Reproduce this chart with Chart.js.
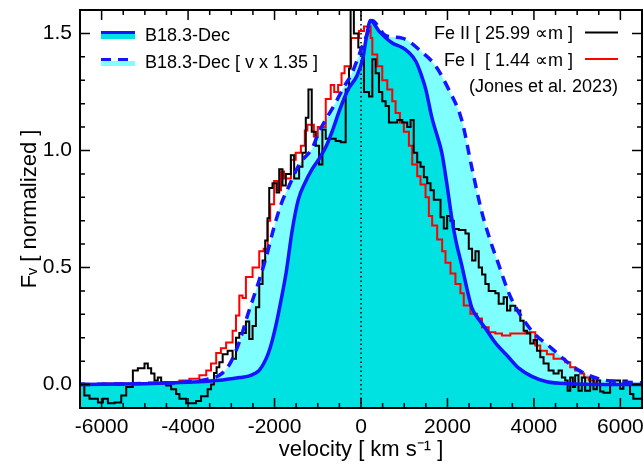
<!DOCTYPE html>
<html lang="en">
<head>
    <meta charset="UTF-8">
    <title>Line profiles</title>
    <script src="https://cdn.jsdelivr.net/npm/chart.js"></script>
    <style>
        body { margin: 0; background: #fff; }
        canvas { display: block; }
    </style>
</head>
<body>
    <canvas id="profileChart" width="644" height="465"></canvas>

    <script>
        const xTicks = [-6000, -4000, -2000, 0, 2000, 4000, 6000];
        const yTicks = [0.0, 0.5, 1.0, 1.5];

        // B18.3-Dec model profile
        const modelVel = [-6500, -5000, -4000, -3200, -2800, -2600, -2450, -2350, -2250, -2150, -2050, -1960, -1850,
            -1730, -1590, -1450, -1300, -1130, -950, -800, -650, -500, -300, -90, 50, 120, 220, 415, 715, 950, 1100,
            1270, 1400, 1500, 1640, 1750, 1870, 2000, 2100, 2200, 2330, 2450, 2560, 2700, 2880, 3100, 3400, 3650,
            3950, 4300, 4800, 6500];
        const modelFlux = [0.0, 0.004, 0.01, 0.02, 0.03, 0.036, 0.048, 0.062, 0.09, 0.13, 0.19, 0.26, 0.36,
            0.48, 0.66, 0.79, 0.86, 0.92, 0.97, 1.02, 1.09, 1.17, 1.26, 1.32, 1.40, 1.48, 1.555, 1.51, 1.46, 1.44, 1.42,
            1.38, 1.32, 1.26, 1.14, 1.07, 0.99, 0.84, 0.71, 0.61, 0.51, 0.41, 0.33, 0.285, 0.24, 0.18, 0.12, 0.07,
            0.035, 0.012, 0.004, 0.0];

        // same model, velocities stretched by 1.35
        const stretchVel = [-6500, -5000, -4000, -3500, -3200, -3000, -2800, -2600, -2400, -2200, -2000, -1850,
            -1660, -1430, -1130, -970, -600, -400, -210, 20, 150, 250, 575, 950, 1410, 1730, 2030, 2330, 2560, 2790,
            3000, 3190, 3400, 3580, 3950, 4410, 4960, 5490, 6000, 6500];
        const stretchFlux = [0.0, 0.005, 0.012, 0.025, 0.05, 0.10, 0.19, 0.31, 0.42, 0.54, 0.68, 0.77,
            0.85, 0.94, 1.01, 1.08, 1.20, 1.27, 1.33, 1.44, 1.50, 1.555, 1.49, 1.48, 1.42, 1.36, 1.26, 1.13, 0.93, 0.74,
            0.61, 0.51, 0.40, 0.33, 0.23, 0.155, 0.07, 0.025, 0.012, 0.008];

        // Fe II 25.99 um, bin start velocities
        const feIIVel = [-6500, -6400, -6280, -6085, -5970, -5855, -5700, -5546, -5431, -5277, -5162, -5008, -4931,
            -4854, -4777, -4700, -4623, -4508, -4392, -4277, -4200, -4046, -3931, -3815, -3700, -3546, -3469, -3400,
            -3340, -3277, -3200, -3085, -2970, -2892, -2815, -2662, -2585, -2508, -2431, -2354, -2277, -2216, -2162,
            -2123, -2047, -1954, -1892, -1816, -1739, -1623, -1546, -1431, -1354, -1277, -1216, -1139, -1046, -970,
            -893, -816, -739, -585, -470, -354, -277, -240, -165, -62, -8, 69, 185, 262, 339, 415, 492,
            570, 646, 762, 839, 954, 1070, 1147, 1220, 1300, 1377, 1454, 1531, 1608, 1685, 1839, 1916, 1993, 2070,
            2146, 2262, 2416, 2493, 2570, 2647, 2723, 2800, 2877, 2954, 3108, 3185, 3300, 3377, 3454, 3570, 3685,
            3762, 3839, 3916, 3993, 4070, 4147, 4223, 4339, 4454, 4570, 4647, 4724, 4780, 4840, 4900, 4954, 5031,
            5108, 5185, 5300, 5377, 5454, 5531, 5608, 5762, 5993, 6070, 6147, 6223, 6300, 6500];
        const feIIFlux = [0.005, -0.047, -0.06, -0.076, -0.06, -0.08, -0.076, -0.047, -0.01, 0.06, 0.07, 0.09, 0.07,
            0.047, 0.017, 0.03, 0.01, -0.004, -0.02, -0.04, -0.06, -0.08, -0.08, -0.07, -0.05, -0.02, 0.0, 0.05,
            0.074, 0.095, 0.13, 0.145, 0.11, 0.2, 0.22, 0.27, 0.195, 0.25, 0.33, 0.43, 0.53, 0.615, 0.71,
            0.84, 0.86, 0.82, 0.92, 0.85, 0.90, 0.98, 0.88, 0.93, 0.99, 1.14, 1.26, 1.08, 1.02, 0.94,
            1.09, 1.05, 1.05, 1.04, 1.035, 1.26, 1.35, 1.65, 1.50, 1.44, 1.41, 1.25, 1.23, 1.39, 1.33, 1.25, 1.21,
            1.19, 1.12, 1.12, 1.13, 1.12, 1.10, 1.13, 0.99, 0.95, 0.93, 0.886, 0.86, 0.83, 0.79, 0.715, 0.667, 0.72, 0.70,
            0.665, 0.66, 0.645, 0.58, 0.53, 0.57, 0.50, 0.47, 0.43, 0.40, 0.39, 0.345, 0.373, 0.316, 0.337, 0.316, 0.273,
            0.23, 0.218, 0.175, 0.19, 0.145, 0.117, 0.09, 0.06, 0.047, 0.06, 0.03, 0.017, -0.026, 0.03, -0.01, 0.04, -0.026,
            0.03, -0.026, 0.03, -0.02, 0.017, -0.03, -0.035, 0.017, -0.018, 0.017, 0.0, -0.04, -0.06, -0.06];

        // Fe I 1.44 um, bin start velocities
        const feIVel = [-6000, -4500, -4200, -3970, -3740, -3580, -3470, -3350, -3240, -3120, -2970, -2892, -2815,
            -2740, -2662, -2508, -2354, -2250, -2160, -2100, -2010, -1930, -1850, -1780, -1620, -1510, -1390, -1300,
            -1240, -1090, -1000, -815, -700, -620, -530, -450, -380, -230, -46, 69, 223, 262, 377, 492, 608, 723, 800,
            900, 992, 1108, 1185, 1300, 1377, 1493, 1570, 1646, 1762, 1877, 1954, 2070, 2185, 2300, 2377, 2531, 2685,
            2800, 2954, 3108, 3262, 3454, 3800, 4031, 4147, 4300, 4454, 4724, 4839, 4954, 5070, 5160, 5270, 5400, 5500];
        const feIFlux = [0.005, 0.01, 0.017, 0.025, 0.04, 0.06, 0.09, 0.135, 0.155, 0.18, 0.23, 0.295, 0.38,
            0.37, 0.46, 0.50, 0.57, 0.58, 0.70, 0.77, 0.87, 0.83, 0.91, 0.88, 0.96, 0.99, 1.02, 1.085,
            1.11, 1.06, 1.10, 1.22, 1.28, 1.25, 1.28, 1.33, 1.36, 1.48, 1.51, 1.53, 1.48, 1.41, 1.36, 1.30, 1.26, 1.21, 1.16,
            1.12, 1.08, 1.02, 0.94, 0.89, 0.855, 0.80, 0.72, 0.68, 0.62, 0.57, 0.52, 0.474, 0.43, 0.39, 0.338, 0.303, 0.282,
            0.245, 0.224, 0.218, 0.21, 0.218, 0.224, 0.167, 0.145, 0.13, 0.11, 0.095, 0.074, 0.06, 0.047, 0.03, 0.017, 0.005, 0.005];

        const FONT = '"Liberation Sans", Arial, Helvetica, sans-serif';
        const BLUE = '#1414ff';

        function pts(xs, ys) {
            return xs.map((v, i) => ({ x: v, y: ys[i] }));
        }

        // box, inward ticks on all four sides, dotted zero line
        const framePlugin = {
            id: 'frame',
            beforeDatasetsDraw(chart) {
                const { ctx, chartArea: a, scales: { x } } = chart;
                const px = x.getPixelForValue(0);
                ctx.save();
                ctx.strokeStyle = '#000';
                ctx.lineWidth = 1.5;
                ctx.setLineDash([1.5, 3]);
                ctx.beginPath();
                ctx.moveTo(px, a.bottom);
                ctx.lineTo(px, a.top);
                ctx.stroke();
                ctx.restore();
            },
            afterDraw(chart) {
                const { ctx, chartArea: a, scales: { x, y } } = chart;
                ctx.save();
                ctx.strokeStyle = '#000';
                ctx.lineWidth = 1.5;
                ctx.beginPath();
                for (let v = -6000; v <= 6000; v += 500) {
                    const p = x.getPixelForValue(v);
                    const len = xTicks.includes(v) ? 10 : 5;
                    ctx.moveTo(p, a.bottom); ctx.lineTo(p, a.bottom - len);
                    ctx.moveTo(p, a.top); ctx.lineTo(p, a.top + len);
                }
                for (let i = 0; i <= 15; i++) {
                    const p = y.getPixelForValue(i / 10);
                    const len = i % 5 === 0 ? 10 : 5;
                    ctx.moveTo(a.left, p); ctx.lineTo(a.left + len, p);
                    ctx.moveTo(a.right, p); ctx.lineTo(a.right - len, p);
                }
                ctx.stroke();
                ctx.lineWidth = 2;
                ctx.strokeRect(a.left, a.top, a.right - a.left, a.bottom - a.top);
                ctx.restore();
            }
        };

        const legendPlugin = {
            id: 'legendBoxes',
            afterDraw(chart) {
                const ctx = chart.ctx;
                const ds = chart.data.datasets;
                ctx.save();
                ctx.font = '18px ' + FONT;
                ctx.textBaseline = 'alphabetic';

                [[ds[0], 32.5], [ds[1], 59.5]].forEach(([d, ly]) => {
                    ctx.fillStyle = d.backgroundColor;
                    ctx.fillRect(101, ly + 1.5, 34, 5);
                    ctx.strokeStyle = d.borderColor;
                    ctx.lineWidth = 3;
                    ctx.setLineDash(d.borderDash || []);
                    ctx.beginPath();
                    ctx.moveTo(101, ly);
                    ctx.lineTo(135, ly);
                    ctx.stroke();
                    ctx.setLineDash([]);
                    ctx.fillStyle = '#000';
                    ctx.textAlign = 'left';
                    ctx.fillText(d.label, 145, ly + 8);
                });

                [[ds[2], 32.5], [ds[3], 59]].forEach(([d, ly]) => {
                    ctx.strokeStyle = d.borderColor;
                    ctx.lineWidth = 2;
                    ctx.beginPath();
                    ctx.moveTo(585, ly);
                    ctx.lineTo(618, ly);
                    ctx.stroke();
                    ctx.fillStyle = '#000';
                    ctx.textAlign = 'right';
                    ctx.fillText(d.label, 573, ly + 6.5);
                });
                ctx.textAlign = 'right';
                ctx.fillText('(Jones et al. 2023)', 618, 92);
                ctx.restore();
            }
        };

        function noEdgePadding(s) {
            s.paddingLeft = 0; s.paddingRight = 0;
            s.paddingTop = 0; s.paddingBottom = 0;
        }

        const ctx = document.getElementById('profileChart').getContext('2d');
        new Chart(ctx, {
            type: 'line',
            data: {
                datasets: [
                    {
                        label: 'B18.3-Dec',
                        data: pts(modelVel, modelFlux),
                        borderColor: BLUE, borderWidth: 3.5,
                        backgroundColor: '#00e1e1', fill: 'start',
                        cubicInterpolationMode: 'monotone', order: 0
                    },
                    {
                        label: 'B18.3-Dec [ v x 1.35 ]',
                        data: pts(stretchVel, stretchFlux),
                        borderColor: BLUE, borderWidth: 3.5, borderDash: [10, 7],
                        backgroundColor: '#80ffff', fill: 'start',
                        cubicInterpolationMode: 'monotone', order: 1
                    },
                    {
                        label: 'Fe II [ 25.99 \u221dm ]',
                        data: pts(feIIVel, feIIFlux),
                        borderColor: '#000', borderWidth: 2, stepped: 'before',
                        fill: false, order: 2
                    },
                    {
                        label: 'Fe I  [ 1.44 \u221dm ]',
                        data: pts(feIVel, feIFlux),
                        borderColor: '#ff0000', borderWidth: 2, stepped: 'before',
                        fill: false, order: 3
                    }
                ]
            },
            options: {
                responsive: false,
                animation: false,
                clip: 0,
                layout: { padding: { top: 10, right: 2, left: 0, bottom: 0 } },
                elements: { point: { radius: 0 } },
                plugins: {
                    legend: { display: false },
                    tooltip: { enabled: false },
                    filler: { drawTime: 'beforeDatasetsDraw' }
                },
                scales: {
                    x: {
                        type: 'linear', min: -6500, max: 6500,
                        afterBuildTicks: s => { s.ticks = xTicks.map(v => ({ value: v })); },
                        afterFit: s => { s.height = 57; noEdgePadding(s); },
                        grid: { display: false, drawTicks: false },
                        border: { display: false },
                        ticks: { color: '#000', font: { family: FONT, size: 21 }, padding: 7,
                                 maxRotation: 0, autoSkip: false, callback: v => String(v) },
                        title: { display: true, text: 'velocity [ km s\u207b\u00b9 ]', color: '#000',
                                 font: { family: FONT, size: 22 }, padding: { top: 0, bottom: 2 } }
                    },
                    y: {
                        min: -0.1, max: 1.6,
                        afterBuildTicks: s => { s.ticks = yTicks.map(v => ({ value: v })); },
                        afterFit: s => { s.width = 80; noEdgePadding(s); },
                        grid: { display: false, drawTicks: false },
                        border: { display: false },
                        ticks: { color: '#000', font: { family: FONT, size: 21 }, padding: 8,
                                 callback: v => v.toFixed(1) },
                        title: { display: true, text: 'F\u1d65 [ normalized ]', color: '#000',
                                 font: { family: FONT, size: 22 }, padding: { top: 17, bottom: 0 } }
                    }
                }
            },
            plugins: [framePlugin, legendPlugin]
        });
    </script>
</body>
</html>
